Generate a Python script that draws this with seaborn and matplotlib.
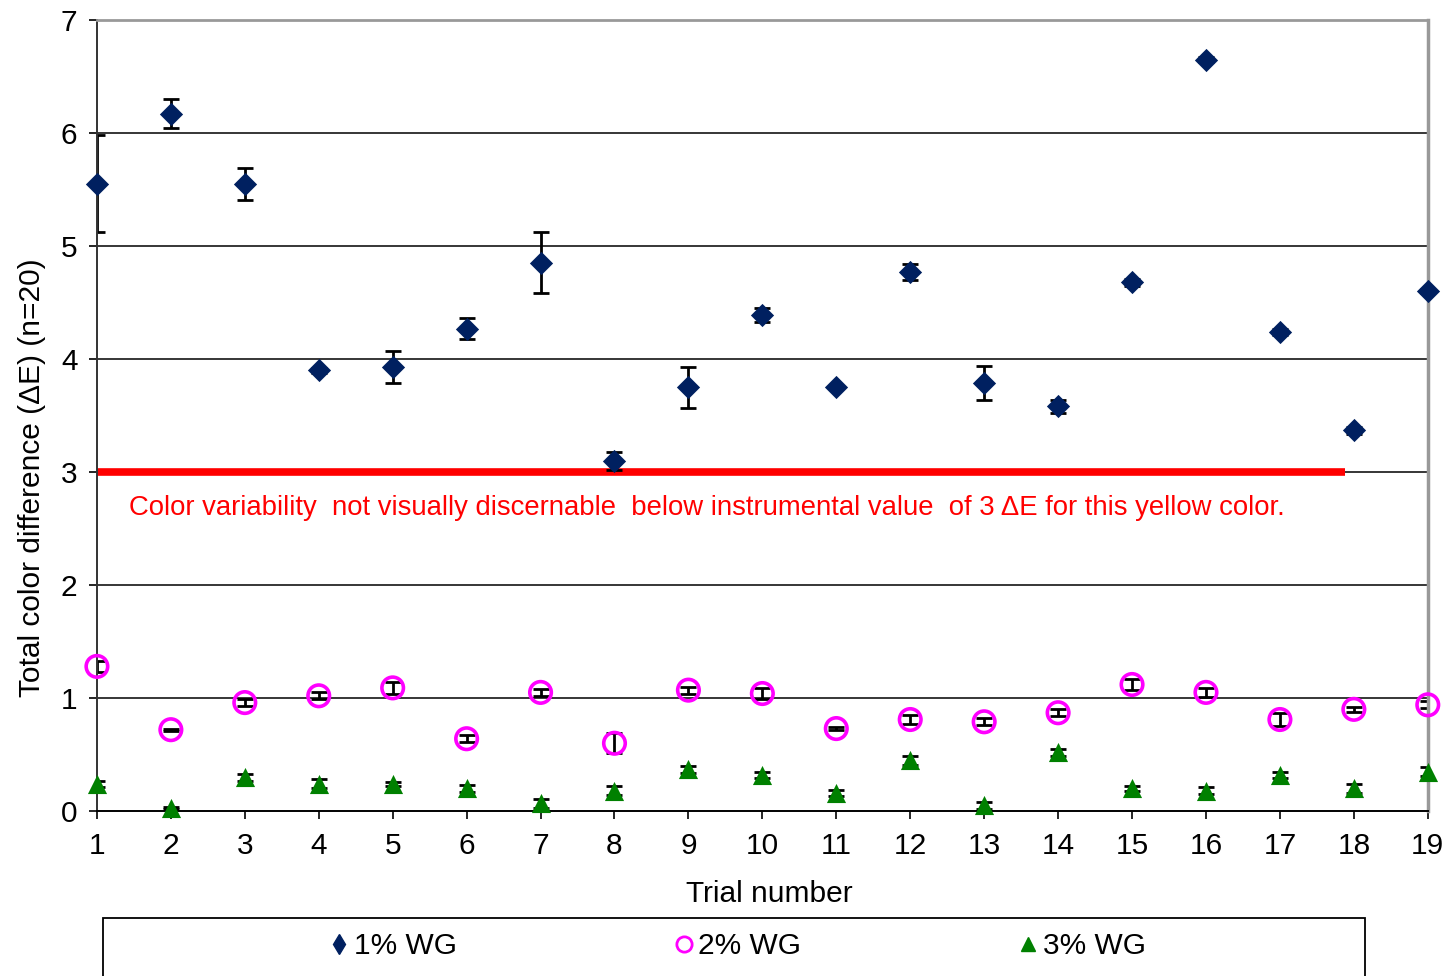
import matplotlib
matplotlib.use("Agg")
import matplotlib.pyplot as plt
from matplotlib.lines import Line2D
from matplotlib.patches import Rectangle
import seaborn as sns
import pandas as pd

# data
trials = list(range(1, 20))
wg1 = [5.55, 6.17, 5.55, 3.90, 3.93, 4.27, 4.85, 3.10, 3.75, 4.39,
       3.75, 4.77, 3.79, 3.58, 4.68, 6.65, 4.24, 3.37, 4.60]
wg1_err = [0.43, 0.13, 0.14, 0.02, 0.14, 0.09, 0.27, 0.08, 0.18, 0.06,
           0.01, 0.07, 0.15, 0.06, 0.03, 0.02, 0.03, 0.03, 0.02]
wg2 = [1.28, 0.72, 0.96, 1.02, 1.09, 0.64, 1.05, 0.60, 1.07, 1.04,
       0.73, 0.81, 0.79, 0.87, 1.12, 1.05, 0.81, 0.90, 0.94]
wg2_err = [0.05, 0.01, 0.03, 0.03, 0.05, 0.03, 0.03, 0.09, 0.03, 0.05,
           0.01, 0.04, 0.03, 0.03, 0.05, 0.04, 0.06, 0.02, 0.03]
wg3 = [0.24, 0.03, 0.30, 0.24, 0.24, 0.20, 0.07, 0.18, 0.37, 0.32,
       0.16, 0.45, 0.05, 0.52, 0.20, 0.18, 0.32, 0.20, 0.35]
wg3_err = [0.03, 0.01, 0.03, 0.04, 0.02, 0.03, 0.04, 0.04, 0.03, 0.03,
           0.03, 0.04, 0.03, 0.03, 0.02, 0.03, 0.03, 0.04, 0.04]
threshold = 3
threshold_end = 17.88

df = pd.DataFrame({"trial": trials, "wg1": wg1, "wg2": wg2, "wg3": wg3})

sns.set_style("white")
plt.rcParams['font.family'] = ['Liberation Sans', 'DejaVu Sans']
plt.rcParams['text.color'] = 'black'
plt.rcParams['axes.labelcolor'] = 'black'

fig = plt.figure(figsize=(14.51, 9.76), dpi=100)
ax = fig.add_axes([0.0668, 0.169, 0.9172, 0.8105])

# gridlines
for yv in range(1, 8):
    ax.axhline(yv, color='black', lw=1.1, zorder=0)

# threshold line
ax.plot([1, threshold_end], [threshold, threshold], color='#ff0000', lw=5.5,
        solid_capstyle='butt', zorder=1)

# error bars
for vals, errs in [(wg1, wg1_err), (wg2, wg2_err), (wg3, wg3_err)]:
    ax.errorbar(trials, vals, yerr=errs, fmt='none', ecolor='black',
                elinewidth=2, capsize=6, capthick=2, zorder=2)

sns.scatterplot(data=df, x='trial', y='wg1', marker='D', s=140, color='#002060',
                edgecolor='#002060', linewidth=0, clip_on=False, zorder=3, ax=ax)
sns.scatterplot(data=df, x='trial', y='wg2', marker='o', s=240, facecolor='none',
                edgecolor='#ff00ff', linewidth=2.6, clip_on=False, zorder=3, ax=ax)
sns.scatterplot(data=df, x='trial', y='wg3', marker='^', s=190, color='#008000',
                edgecolor='#008000', linewidth=0, clip_on=False, zorder=3, ax=ax)

ax.text(1.43, 2.68, "Color variability  not visually discernable  below instrumental value  "
        "of 3 \u0394E for this yellow color.", color='#ff0000', fontsize=19.8,
        va='center', ha='left')

ax.set_xlim(1, 19)
ax.set_ylim(0, 7)
ax.set_xticks(trials)
ax.set_yticks(range(0, 8))
ax.tick_params(axis='both', labelsize=21.5, direction='out', length=6, width=1.2,
               colors='black', bottom=True, left=True)
ax.tick_params(axis='x', pad=9)
ax.tick_params(axis='y', pad=8)
ax.set_xlabel("Trial number", fontsize=21.5, color='black')
ax.set_ylabel("Total color difference (\u0394E) (n=20)", fontsize=21.5, color='black')
ax.xaxis.set_label_coords(0.505, -0.087)
ax.yaxis.set_label_coords(-0.0383, 0.421)

ax.spines['left'].set_color('#333333')
ax.spines['bottom'].set_color('black')
ax.spines['left'].set_linewidth(1.4)
ax.spines['bottom'].set_linewidth(1.4)
ax.spines['top'].set_color('#999999')
ax.spines['right'].set_color('#999999')
ax.spines['top'].set_linewidth(2)
ax.spines['right'].set_linewidth(2.5)

# legend box at the bottom
box = Rectangle((103 / 1451, -0.05), (1365 - 103) / 1451, 0.05 + (976 - 918) / 976,
                transform=fig.transFigure, fill=False, edgecolor='black', lw=1.3)
fig.patches.append(box)

handles = [
    Line2D([], [], ls='none', marker='d', markersize=10, color='#002060'),
    Line2D([], [], ls='none', marker='o', markersize=11, markerfacecolor='none',
           markeredgecolor='#ff00ff', markeredgewidth=2),
    Line2D([], [], ls='none', marker='^', markersize=10, color='#008000'),
]
fig.legend(handles, ["1% WG", "2% WG", "3% WG"], loc='center',
           bbox_to_anchor=(738 / 1451, 1 - 946 / 976), ncol=3, frameon=False,
           fontsize=21.5, handlelength=0.6, handletextpad=0.2, columnspacing=7.3,
           labelcolor='black')

fig.savefig("out.png", dpi=100)
